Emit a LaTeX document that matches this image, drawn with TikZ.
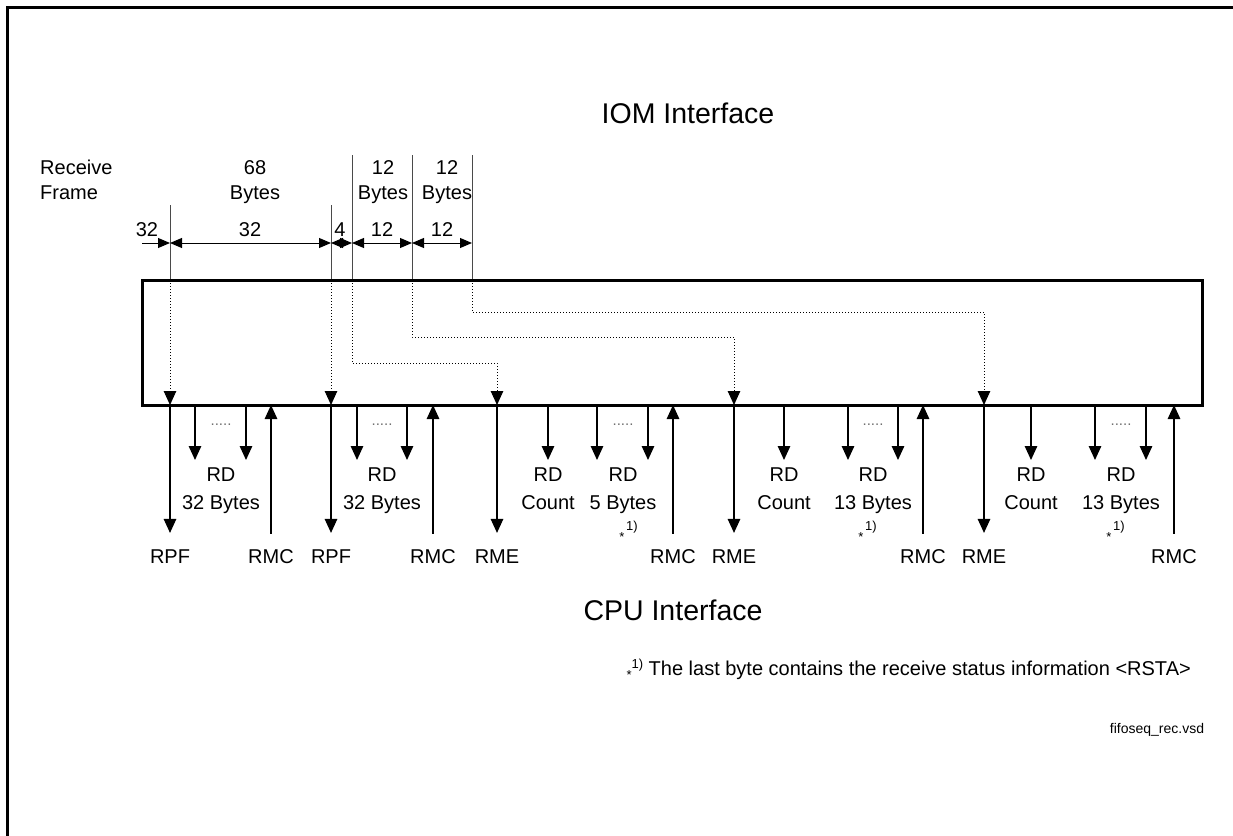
\documentclass[tikz,border=0pt]{standalone}
\usepackage{fontspec}
\setmainfont{Liberation Sans}
\definecolor{rulegray}{HTML}{4A4A4A}
\definecolor{dotgray}{HTML}{707070}
\usetikzlibrary{arrows.meta, positioning, calc}
\newcommand{\lblsize}{\fontsize{20}{28}\selectfont}
\newcommand{\toplblsize}{\fontsize{20}{25}\selectfont}
\newcommand{\ifsize}{\fontsize{28.5}{32}\selectfont}
\newcommand{\marksize}{\fontsize{13}{14}\selectfont}
\newcommand{\fnmark}{\raisebox{-4pt}{\marksize *}\raisebox{7pt}{\marksize 1)}}

\begin{document}
\begin{tikzpicture}[x=1pt, y=-1pt,
  sig/.style={-{Triangle[length=14pt, width=12.5pt]}, line width=1.3pt},
  dim/.style={{Triangle[length=12pt, width=10pt]}-{Triangle[length=12pt, width=10pt]}, line width=1pt},
  route/.style={dotted, line width=1pt, -{Triangle[length=14pt, width=12.5pt]}},
  lbl/.style={font=\lblsize, inner sep=0pt, align=center},
  toplbl/.style={font=\toplblsize, inner sep=0pt, align=center},
  fnlbl/.style={font=\marksize, inner sep=0pt}]
  \useasboundingbox (0,0) rectangle (1233,835);
  \draw[line width=3pt] (7,845) -- (7,7) -- (1245,7);

  \node[font=\ifsize] (iom) at (688,113) {IOM Interface};
  \node[font=\ifsize] (cpu) at (673,610) {CPU Interface};
  \node[toplbl, align=left, anchor=north west] (frame) at (40,160) {Receive\\Frame};

  % frame boundaries on the IOM side
  \foreach \n/\x/\t in {a/170/205, b/331/205, c/352/155, d/412/155, e/472/155}{
    \coordinate (t\n) at (\x,\t);
    \coordinate (m\n) at (\x,243);
    \coordinate (b\n) at (\x,280);
    \draw[rulegray, line width=1pt] (t\n) -- (b\n);
  }
  \coordinate (m0) at (142,243);
  \draw[-{Triangle[length=12pt, width=10pt]}, line width=1pt] (m0) -- (ma);
  \draw[dim] (ma) -- (mb);
  \draw[dim] (mb) -- (mc);
  \draw[dim] (mc) -- (md);
  \draw[dim] (md) -- (me);
  \node[lbl] (n32a) at (147,230) {32};
  \node[lbl] (n32b) at (250,230) {32};
  \node[lbl] (n4) at (340,230) {4};
  \node[lbl] (n12a) at (382,230) {12};
  \node[lbl] (n12b) at (442,230) {12};
  \node[toplbl, anchor=north] (b68) at (255,160) {68\\Bytes};
  \node[toplbl, anchor=north] (b12a) at (383,160) {12\\Bytes};
  \node[toplbl, anchor=north] (b12b) at (447,160) {12\\Bytes};

  % FIFO
  \coordinate (fifonw) at (142,280);
  \coordinate (fifose) at (1202,405);
  \draw[line width=3pt] (fifonw) rectangle (fifose);

  \draw[route] (ba) -- (170,405);
  \draw[route] (bb) -- (331,405);
  \draw[route] (bc) |- (497,363) -- (497,405);
  \draw[route] (bd) |- (734,337) -- (734,405);
  \draw[route] (be) |- (984,312) -- (984,405);

  % CPU side
  \foreach \x/\t in {170/RPF, 331/RPF, 497/RME, 734/RME, 984/RME}{
    \node[lbl] (l\x) at (\x,557) {\t};
    \draw[sig, shorten >=17pt] (\x,405) -- (l\x.north);
  }
  \foreach \x in {271, 433, 673, 923, 1174}{
    \node[lbl] (l\x) at (\x,557) {RMC};
    \draw[sig, shorten <=16pt] (l\x.north) -- (\x,405);
  }
  \foreach \x in {195, 246, 357, 407, 548, 597, 648, 784, 848, 898, 1031, 1095, 1146}
    \draw[sig] (\x,405) -- (\x,460);

  \foreach \x/\t in {221/32 Bytes, 382/32 Bytes, 623/5 Bytes, 873/13 Bytes, 1121/13 Bytes}{
    \node[lbl, anchor=north] (rd\x) at (\x,468) {RD\\\t};
    \node[font=\fontsize{15}{16}\selectfont, text=dotgray, inner sep=0pt] (dots\x) at (\x,425) {.....};
  }
  \foreach \x in {548, 784, 1031}
    \node[lbl, anchor=north] (cnt\x) at (\x,468) {RD\\Count};
  \foreach \x in {622, 861, 1109}{
    \node[fnlbl] (st\x) at (\x,537) {*};
    \node[fnlbl] (fn\x) at ([xshift=10pt, yshift=10pt]st\x) {1)};
  }

  \node[lbl, anchor=east] (note) at (1191,669) {\fnmark\ The last byte contains the receive status information <RSTA>};
  \node[font=\fontsize{14}{16}\selectfont] (vsd) at (1157,730) {fifoseq\_rec.vsd};
\end{tikzpicture}
\end{document}
